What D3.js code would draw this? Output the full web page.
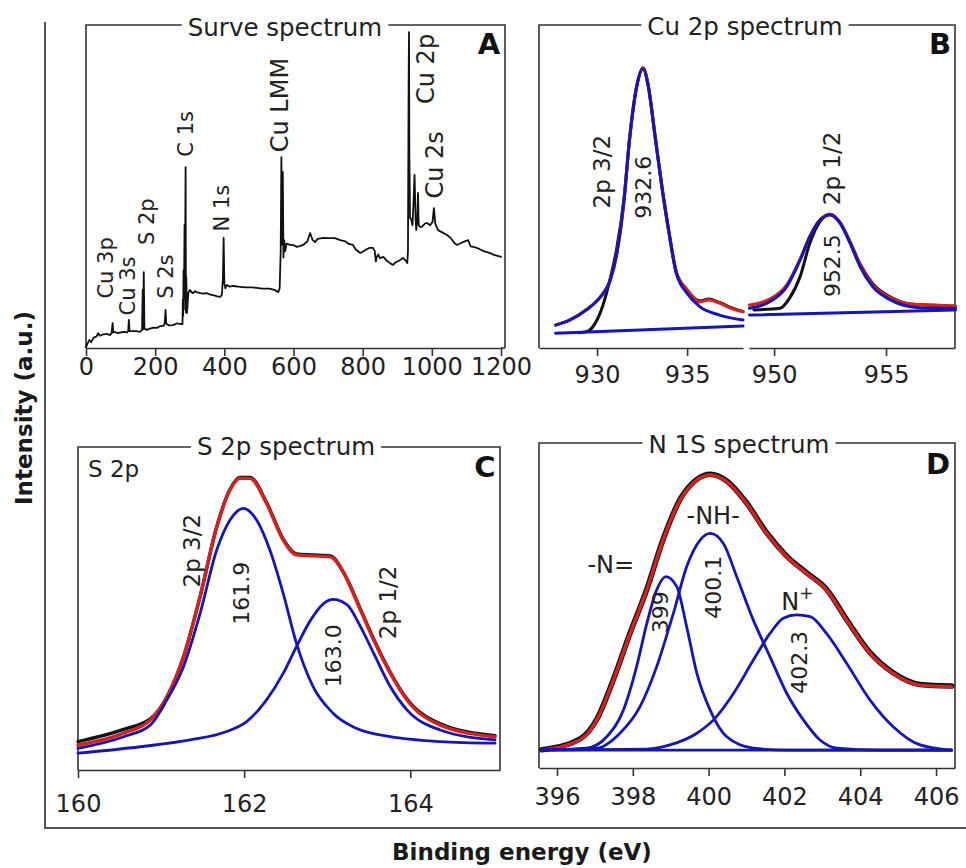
<!DOCTYPE html>
<html>
<head>
<meta charset="utf-8">
<script src="https://cdn.jsdelivr.net/npm/d3@7"></script>
<style>
  html, body { margin: 0; padding: 0; background: #fff; }
  svg { display: block; font-family: "DejaVu Sans", sans-serif; }
</style>
</head>
<body>
<script>
// ---------------- Survey spectrum (binding energy eV, intensity a.u.) ----------------
const surveySpectrum = [
  [0,0.3],[5,1.5],[10,2.5],[15,1.8],[22,3.2],[30,3.5],[35,4.6],[40,3.8],[50,4.2],[60,4.4],
  [69,4.0],[74,4.6],[77,7.7],[79,4.8],[85,5.0],[90,4.6],[100,4.8],[110,5.0],[118,4.8],[122,5.2],
  [124,8.7],[126,5.2],[135,5.2],[145,5.2],[156,5.0],[162,5.6],[164,18.0],[165,5.8],[167,23.5],[169,6.0],
  [176,5.6],[185,6.0],[195,6.3],[205,6.2],[215,6.8],[225,6.9],[228,8.0],[230,11.8],[232,7.5],[240,7.0],
  [252,7.1],[262,7.6],[272,7.5],[279,7.4],[280,15.0],[281,10.0],[282,24.1],[283,12.0],[285,38.1],[286,15.0],
  [288,56.0],[289,11.0],[290,22.0],[292,10.8],[296,17.0],[300,18.0],[305,17.3],[310,17.0],[315,17.6],[320,17.3],
  [330,17.0],[340,16.8],[349,17.0],[360,16.5],[370,16.3],[380,16.0],[388,15.8],[393,16.5],[396,22.0],[398,34.1],
  [400,20.0],[403,18.5],[407,19.5],[415,19.0],[426,19.2],[440,19.0],[460,18.8],[480,18.8],[494,18.6],[510,18.4],
  [530,18.4],[545,18.0],[556,17.3],[560,18.5],[563,30.0],[565,59.1],[567,32.0],[569,54.5],[571,28.0],[573,33.4],
  [576,30.0],[580,32.3],[590,31.9],[599,31.9],[610,31.3],[620,31.6],[628,31.9],[640,33.0],[648,35.6],[655,33.5],
  [662,32.8],[670,33.8],[686,34.1],[700,34.0],[720,34.0],[735,33.4],[750,33.0],[760,32.2],[772,31.9],[780,30.5],
  [793,29.4],[800,29.8],[810,30.5],[820,31.0],[830,31.0],[835,30.0],[838,26.8],[841,28.2],[845,29.0],[850,27.8],
  [860,28.2],[870,27.0],[880,26.2],[888,25.7],[895,26.5],[905,27.0],[917,27.9],[925,27.0],[929,26.3],[931,30.0],
  [933,84.5],[934,97.8],[935,60.0],[937,40.2],[940,40.0],[944,38.0],[947,45.0],[950,53.6],[953,40.0],[955,36.5],
  [958,40.0],[960,48.0],[962,38.0],[966,37.5],[971,37.5],[980,38.5],[986,38.7],[995,38.0],[1002,39.0],[1006,43.3],
  [1010,38.5],[1018,36.5],[1030,35.8],[1044,35.0],[1055,34.0],[1065,32.5],[1073,31.9],[1085,32.5],[1095,33.0],[1105,33.4],
  [1112,31.5],[1120,31.3],[1130,31.0],[1140,30.5],[1150,30.0],[1160,29.7],[1170,29.3],[1180,28.8],[1190,28.5],[1200,28.2]
];
const surveyTicks = [0, 200, 400, 600, 800, 1000, 1200];
const surveyLabels = [
  ["Cu 3p", 57, 24.8], ["Cu 3s", 122, 19.2], ["S 2p", 177, 39.1], ["S 2s", 230, 22.1],
  ["C 1s", 288, 66.3], ["N 1s", 394, 43.3], ["Cu LMM", 561, 75.2], ["Cu 2p", 982, 86.4], ["Cu 2s", 1009, 56.7]
];

// ---------------- Cu 2p region ----------------
const cu2p32Baseline = [[927.7,4.6],[938.1,6.8]];
const cu2p32Envelope = [
  [927.7,7.1],[928.5,8.7],[929.4,11.8],[930.2,15.9],[930.7,20.5],[931.1,29.3],[931.5,45.8],[931.8,64.4],
  [932.2,80.9],[932.55,86.4],[932.85,80.9],[933.2,66.5],[933.6,49.9],[934.0,35.5],[934.4,23.1],[935.0,16.9],
  [935.7,12.8],[936.8,10.2],[938.1,8.7]
];
const cu2p32Fit = [
  [927.7,7.1],[928.5,8.7],[929.4,11.8],[930.2,15.9],[930.7,20.5],[931.1,29.3],[931.5,45.8],[931.8,64.4],
  [932.2,80.9],[932.55,86.7],[932.85,80.9],[933.2,66.5],[933.6,49.9],[934.0,35.5],[934.4,23.5],[935.0,18.0],
  [935.7,14.3],[936.2,14.9],[936.8,13.9],[937.4,12.4],[938.1,11.2]
];
const cu2p32Raw = [
  [929.0,4.7],[929.5,5.2],[929.9,7.7],[930.3,12.8],[930.8,23.1],[931.1,31.0],[931.5,46.5],[931.8,64.4],
  [932.2,81.0],[932.55,86.7],[932.85,81.0],[933.2,66.5],[933.6,49.9],[934.0,35.5],[934.4,23.5],[935.0,18.0],
  [935.7,14.6],[936.2,15.2],[936.8,14.1],[937.4,12.6],[938.1,11.3]
];
const cu2p12Baseline = [[948.9,10.2],[958.1,11.8]];
const cu2p12Envelope = [
  [948.9,12.3],[949.8,14.3],[950.57,19.0],[951.16,27.2],[951.6,34.5],[952.05,39.6],[952.5,41.2],[952.95,38.6],
  [953.4,32.4],[953.84,25.2],[954.4,19.0],[955.2,14.9],[956.1,12.8],[957.1,12.3],[958.1,12.3]
];
const cu2p12Fit = [
  [948.9,13.3],[949.8,15.1],[950.57,19.5],[951.16,27.4],[951.6,34.6],[952.05,39.7],[952.5,41.4],[952.95,38.8],
  [953.4,32.6],[953.84,25.6],[954.4,19.6],[955.2,15.5],[956.1,13.6],[957.1,13.3],[958.1,13.0]
];
const cu2p12Raw = [
  [949.1,11.8],[950.27,12.3],[950.7,15.5],[951.16,22.1],[951.6,32.5],[952.05,39.1],[952.5,41.4],[952.95,38.8],
  [953.4,32.8],[953.84,26.0],[954.4,20.0],[955.2,15.8],[956.1,13.6],[957.1,13.2],[958.1,12.9]
];
const cu2pTicksLow = [930, 935];
const cu2pTicksHigh = [950, 955];
const cu2pLabels = [["2p 3/2", 930.26, 54.6], ["932.6", 932.57, 49.8], ["2p 1/2", 952.6, 55.6], ["952.5", 952.63, 25.5]];

// ---------------- S 2p region ----------------
const s2pComp32 = [
  [160.0,6.7],[160.55,10.3],[160.87,13.9],[161.07,21.7],[161.27,32.0],[161.47,48.5],[161.67,68.1],[161.83,77.4],
  [161.99,81.0],[162.15,77.4],[162.31,68.1],[162.47,54.7],[162.63,39.2],[162.83,25.8],[163.07,17.6],[163.35,12.9],
  [163.76,10.3],[164.36,8.8],[165.02,8.3]
];
const s2pComp12 = [
  [160.0,5.2],[160.75,7.2],[161.35,9.3],[161.79,11.9],[162.03,15.0],[162.27,21.7],[162.47,29.9],[162.63,38.2],
  [162.8,46.4],[162.96,51.6],[163.07,52.8],[163.24,51.1],[163.4,44.4],[163.56,36.1],[163.76,25.8],[163.96,18.6],
  [164.36,12.4],[165.02,9.3]
];
const s2pFit = [
  [160.0,7.7],[160.55,11.4],[160.87,15.5],[161.07,22.7],[161.27,35.1],[161.47,53.7],[161.67,75.3],[161.83,86.7],
  [161.95,90.3],[162.07,90.3],[162.27,82.5],[162.47,71.2],[162.63,66.6],[162.83,66.3],[163.04,66.0],[163.2,60.9],
  [163.4,49.5],[163.56,40.2],[163.76,29.9],[163.96,21.7],[164.36,13.9],[165.02,10.3]
];
const s2pRaw = [
  [160.0,8.8],[160.55,12.6],[160.87,15.8],[161.07,22.5],[161.27,35.0],[161.47,53.7],[161.67,75.3],[161.83,86.9],
  [161.95,90.6],[162.07,90.6],[162.27,82.8],[162.47,71.5],[162.63,66.9],[162.83,66.6],[163.04,66.3],[163.2,61.0],
  [163.4,49.8],[163.56,40.5],[163.76,30.2],[163.96,22.0],[164.36,14.3],[165.02,10.6]
];
const s2pTicks = [160, 162, 164];
const s2pLabels = [["2p 3/2", 161.37, 67.9], ["161.9", 161.97, 54.7], ["163.0", 163.08, 35.4], ["2p 1/2", 163.73, 51.9]];

// ---------------- N 1s region ----------------
const n1sBaseline = [[395.6,5.5],[406.41,5.5]];
const n1sFit = [
  [395.6,5.5],[396.6,8.6],[397.05,14.8],[397.49,27.1],[397.93,41.4],[398.37,54.8],[398.8,70.2],[399.25,82.5],
  [399.69,88.6],[400.04,90.2],[400.48,88.1],[401.0,81.4],[401.53,72.2],[402.06,65.0],[402.58,59.9],[403.11,54.8],
  [403.64,45.5],[404.26,35.3],[404.87,29.1],[405.58,25.5],[406.41,25.0]
];
const n1sRaw = [
  [395.6,5.6],[396.6,8.9],[397.05,15.0],[397.49,27.3],[397.93,41.6],[398.37,55.0],[398.8,70.4],[399.25,82.7],
  [399.69,88.8],[400.04,90.4],[400.48,88.3],[401.0,81.6],[401.53,72.4],[402.06,65.2],[402.58,60.1],[403.11,55.0],
  [403.64,45.7],[404.26,35.5],[404.87,29.3],[405.58,25.7],[406.41,25.2]
];
const n1sImine = [
  [395.6,5.5],[396.78,6.1],[397.31,9.6],[397.75,17.8],[398.1,31.2],[398.37,44.5],[398.63,54.8],[398.87,58.9],
  [399.16,55.8],[399.42,43.5],[399.69,29.1],[400.04,17.8],[400.48,9.6],[401.18,6.1],[402.06,5.5],[406.41,5.5]
];
const n1sAmine = [
  [395.6,5.5],[397.05,6.1],[397.66,10.7],[398.19,18.9],[398.63,31.2],[399.07,47.6],[399.42,61.9],[399.78,70.2],
  [400.04,72.2],[400.39,69.1],[400.74,58.9],[401.18,45.5],[401.62,34.2],[402.06,23.0],[402.5,14.8],[402.94,8.6],
  [403.38,6.1],[404.5,5.5],[406.41,5.5]
];
const n1sCharged = [
  [395.6,5.5],[398.37,5.8],[398.98,7.1],[399.69,10.7],[400.13,14.8],[400.66,23.0],[401.18,33.2],[401.62,41.4],
  [401.97,46.1],[402.32,47.1],[402.68,46.6],[403.11,41.4],[403.64,32.2],[404.26,20.9],[404.87,12.7],[405.58,7.1],
  [406.41,5.5]
];
const n1sTicks = [396, 398, 400, 402, 404, 406];
const n1sPeakLabels = [["399", 398.72, 47.9], ["400.1", 400.12, 55.6], ["402.3", 402.41, 32.5]];
const n1sSpeciesLabels = [["-N=", 397.42, 62.5], ["-NH-", 400.12, 77.6], ["N", 402.34, 51.2]];

// ---------------- drawing ----------------
const W = 966, H = 868;
const INK = "#222", FRAME = "#333";
const BLUE = "#1616b4", RED = "#d42222", BLACK = "#111";

const svg = d3.select("body").append("svg").attr("width", W).attr("height", H);

// outer L-shaped frame shared by all four panels
svg.append("path")
  .attr("d", "M45,22V828H966")
  .attr("fill", "none").attr("stroke", "#555").attr("stroke-width", 2);

// axis titles
svg.append("text")
  .attr("transform", "translate(24,408) rotate(-90)")
  .attr("text-anchor", "middle").attr("dominant-baseline", "central")
  .attr("font-size", 23).attr("font-weight", "bold").attr("fill", "#1a1a1a")
  .text("Intensity (a.u.)");
svg.append("text")
  .attr("x", 522).attr("y", 860)
  .attr("text-anchor", "middle")
  .attr("font-size", 23).attr("font-weight", "bold").attr("fill", "#1a1a1a")
  .text("Binding energy (eV)");

// box with a title interrupting the top edge and a panel letter; the axis draws the bottom edge
function frame(g, x0, x1, y0, y1, title, titleX, titleBase, letter, letterX, letterY) {
  const t = g.append("text")
    .attr("x", titleX).attr("y", titleBase)
    .attr("text-anchor", "middle")
    .attr("font-size", 24.5).attr("fill", INK)
    .text(title);
  const bb = t.node().getBBox();
  const edge = (d) => g.append("path").attr("d", d).attr("fill", "none")
    .attr("stroke", FRAME).attr("stroke-width", 1.6);
  edge(`M${x0},${y1}V${y0}H${bb.x - 6}`);
  edge(`M${bb.x + bb.width + 6},${y0}H${x1}V${y1}`);
  g.append("text")
    .attr("x", letterX).attr("y", letterY)
    .attr("text-anchor", "middle").attr("dominant-baseline", "central")
    .attr("font-size", 29).attr("font-weight", "bold").attr("fill", "#111")
    .text(letter);
}

function bottomAxis(g, scale, ticks, yPos, pad) {
  const ax = g.append("g")
    .attr("transform", `translate(0,${yPos})`)
    .call(d3.axisBottom(scale).tickValues(ticks).tickFormat(d3.format("d"))
      .tickSize(8).tickSizeOuter(0).tickPadding(pad));
  ax.select(".domain").attr("stroke", FRAME).attr("stroke-width", 1.6);
  ax.selectAll(".tick line").attr("stroke", FRAME).attr("stroke-width", 1.6);
  ax.selectAll(".tick text")
    .attr("font-size", 24).attr("font-family", '"DejaVu Sans", sans-serif').attr("fill", INK);
  return ax;
}

function curve(g, data, x, y, color, width, interp) {
  g.append("path")
    .datum(data)
    .attr("fill", "none")
    .attr("stroke", color)
    .attr("stroke-width", width)
    .attr("stroke-linejoin", "round")
    .attr("stroke-linecap", "round")
    .attr("d", d3.line().x(d => x(d[0])).y(d => y(d[1])).curve(interp || d3.curveMonotoneX));
}

function rotatedLabel(g, text, px, py, size) {
  g.append("text")
    .attr("transform", `translate(${px},${py}) rotate(-90)`)
    .attr("text-anchor", "middle").attr("dominant-baseline", "central")
    .attr("font-size", size).attr("fill", INK)
    .text(text);
}

// ---- Panel A: survey ----
{
  const g = svg.append("g");
  const x = d3.scaleLinear().domain([0, 1200]).range([86, 501]);
  const y = d3.scaleLinear().domain([0, 100]).range([348, 25]);
  frame(g, 86, 505, 25, 348, "Surve spectrum", 285, 36, "A", 489, 44);
  g.append("path").attr("d", "M501,348H505").attr("stroke", FRAME).attr("stroke-width", 1.6);
  bottomAxis(g, x, surveyTicks, 348, 2);
  curve(g, surveySpectrum, x, y, BLACK, 1.8, d3.curveLinear);
  const wide = new Set(["Cu LMM", "Cu 2p", "Cu 2s"]);
  surveyLabels.forEach(([t, be, v]) => rotatedLabel(g, t, x(be), y(v), wide.has(t) ? 24 : 21));
}

// ---- Panel B: Cu 2p (broken energy axis) ----
{
  const g = svg.append("g");
  const xLow = d3.scaleLinear().domain([926.78, 938.1]).range([539, 743]);
  const xHigh = d3.scaleLinear().domain([948.88, 958.08]).range([749, 955]);
  const y = d3.scaleLinear().domain([0, 100]).range([348, 25]);
  frame(g, 539, 955, 25, 348, "Cu 2p spectrum", 745, 35, "B", 940, 44);
  bottomAxis(g, xLow, cu2pTicksLow, 348, 10);
  bottomAxis(g, xHigh, cu2pTicksHigh, 348, 10);

  curve(g, cu2p32Raw, xLow, y, BLACK, 3);
  curve(g, cu2p32Fit, xLow, y, RED, 3.2);
  curve(g, cu2p32Envelope, xLow, y, BLUE, 3);
  curve(g, cu2p32Baseline, xLow, y, BLUE, 3, d3.curveLinear);

  curve(g, cu2p12Raw, xHigh, y, BLACK, 3);
  curve(g, cu2p12Fit, xHigh, y, RED, 3.2);
  curve(g, cu2p12Envelope, xHigh, y, BLUE, 3);
  curve(g, cu2p12Baseline, xHigh, y, BLUE, 3, d3.curveLinear);

  cu2pLabels.forEach(([t, be, v]) => {
    const sx = be > 940 ? xHigh : xLow;
    rotatedLabel(g, t, sx(be), y(v), /p/.test(t) ? 23 : 22);
  });
}

// ---- Panel C: S 2p ----
{
  const g = svg.append("g");
  const x = d3.scaleLinear().domain([160, 165.08]).range([78, 500]);
  const y = d3.scaleLinear().domain([0, 100]).range([770, 447]);
  frame(g, 78, 500, 447, 770, "S 2p spectrum", 286, 455, "C", 485, 467);
  bottomAxis(g, x, s2pTicks, 770, 17);

  curve(g, s2pRaw, x, y, BLACK, 3.4);
  curve(g, s2pFit, x, y, RED, 3.4);
  curve(g, s2pComp32, x, y, BLUE, 2.8);
  curve(g, s2pComp12, x, y, BLUE, 2.8);

  g.append("text").attr("x", 88).attr("y", 477)
    .attr("font-size", 23).attr("fill", INK).text("S 2p");
  s2pLabels.forEach(([t, be, v]) => rotatedLabel(g, t, x(be), y(v), /p/.test(t) ? 23 : 22));
}

// ---- Panel D: N 1s ----
{
  const g = svg.append("g");
  const x = d3.scaleLinear().domain([395.525, 406.5]).range([539, 955]);
  const y = d3.scaleLinear().domain([0, 100]).range([768, 443]);
  frame(g, 539, 955, 443, 768, "N 1S spectrum", 739, 453, "D", 938, 464);
  bottomAxis(g, x, n1sTicks, 768, 12);

  curve(g, n1sRaw, x, y, BLACK, 5.5);
  curve(g, n1sFit, x, y, RED, 3.4);
  curve(g, n1sBaseline, x, y, BLUE, 2.8, d3.curveLinear);
  curve(g, n1sImine, x, y, BLUE, 2.8);
  curve(g, n1sAmine, x, y, BLUE, 2.8);
  curve(g, n1sCharged, x, y, BLUE, 2.8);

  n1sPeakLabels.forEach(([t, be, v]) => rotatedLabel(g, t, x(be), y(v), 22));
  n1sSpeciesLabels.forEach(([t, be, v]) => {
    const txt = g.append("text")
      .attr("x", x(be)).attr("y", y(v))
      .attr("text-anchor", "middle").attr("dominant-baseline", "central")
      .attr("font-size", 24).attr("fill", INK)
      .text(t);
    if (t === "N") {
      txt.append("tspan").attr("dy", -9).attr("font-size", 17).text("+");
    }
  });
}
</script>
</body>
</html>
